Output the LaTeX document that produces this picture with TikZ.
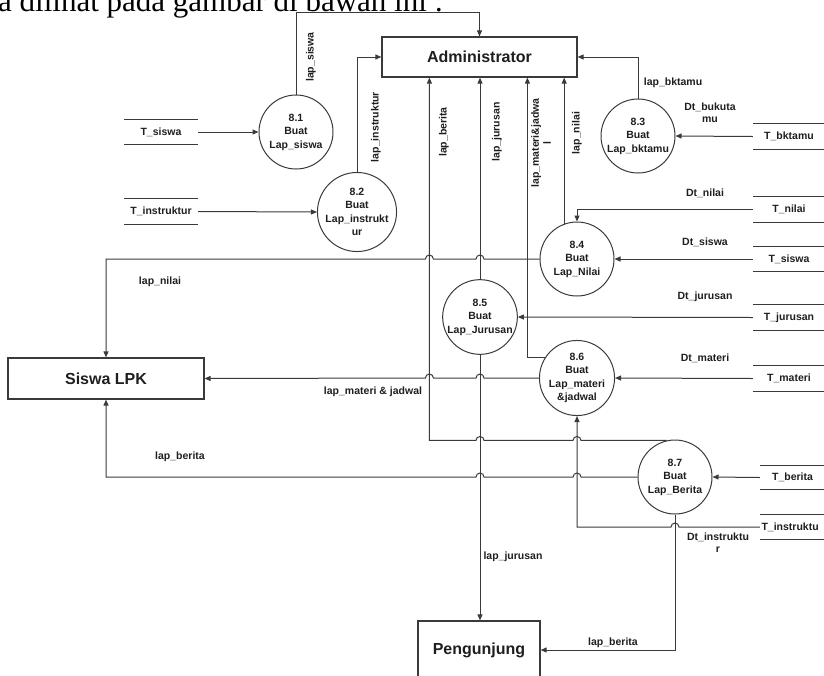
\documentclass[tikz,border=0pt]{standalone}
\usepackage{fontspec}
\setmainfont{Liberation Sans}
\newfontfamily\serifx{Liberation Serif}
\usetikzlibrary{arrows.meta,calc}
\newcommand\bridgearc{arc[start angle=0,end angle=180,radius=4pt]}
\definecolor{lc}{HTML}{3A3A3A}
\definecolor{tc}{HTML}{1E1E1E}
\begin{document}
\begin{tikzpicture}[x=1pt,y=-1pt,
  proc/.style={circle, draw=lc, line width=1pt, minimum size=74pt, inner sep=0pt, align=center, text=tc, font=\bfseries\fontsize{10.5}{13.5}\selectfont},
  ent/.style={draw=lc, line width=1.2pt, inner sep=0pt, text=tc, font=\bfseries\fontsize{16}{19}\selectfont},
  store/.style={inner sep=0pt, text=tc, font=\bfseries\fontsize{10.5}{12}\selectfont},
  flow/.style={draw=lc, line width=1pt, -{Triangle[length=6pt,width=5pt]}},
  lbl/.style={inner sep=0pt, align=center, text=tc, font=\bfseries\fontsize{10.5}{12}\selectfont},
  slines/.style={draw=lc, line width=1pt}]
\useasboundingbox (0,0) rectangle (824,675);
\clip (0,0) rectangle (824,675);

% heading text from the page
\node[anchor=base west, inner sep=0pt, font=\serifx\fontsize{31}{36}\selectfont] (head) at (-2,11) {a dilihat pada gambar di bawah ini :};

% entities
\node[ent, minimum width=195pt, minimum height=40pt] (admin) at (479.5,57) {Administrator};
\node[ent, minimum width=196pt, minimum height=41pt] (siswa) at (106,378.5) {Siswa LPK};
\node[ent, minimum width=122pt, minimum height=58pt] (peng) at (479,650) {Pengunjung};

% processes
\node[proc] (p81) at (296,132) {8.1\\Buat\\Lap\_siswa};
\node[proc] (p82) at (357,212) {8.2\\Buat\\Lap\_instrukt\\ur};
\node[proc] (p83) at (638,136) {8.3\\Buat\\Lap\_bktamu};
\node[proc] (p84) at (577,259) {8.4\\Buat\\Lap\_Nilai};
\node[proc] (p85) at (480,317) {8.5\\Buat\\Lap\_Jurusan};
\node[proc] (p86) at (577,378) {8.6\\Buat\\Lap\_materi\\\&jadwal};
\node[proc] (p87) at (675,477) {8.7\\Buat\\Lap\_Berita};

% data stores
\node[store, minimum width=74pt, minimum height=24pt] (ts1) at (161,132) {T\_siswa};
\node[store, minimum width=74pt, minimum height=25pt] (ti1) at (161,211.5) {T\_instruktur};
\node[store, minimum width=72pt, minimum height=25pt] (tbk) at (789,136.5) {T\_bktamu};
\node[store, minimum width=72pt, minimum height=25pt] (tn) at (789,209.5) {T\_nilai};
\node[store, minimum width=72pt, minimum height=24pt] (tsw) at (789,259) {T\_siswa};
\node[store, minimum width=72pt, minimum height=25pt] (tj) at (789,317.5) {T\_jurusan};
\node[store, minimum width=72pt, minimum height=25pt] (tm) at (789,378.5) {T\_materi};
\node[store, minimum width=65pt, minimum height=23pt] (tb) at (792.5,477.5) {T\_berita};
\node[store, minimum width=65pt, minimum height=24pt, text width=62pt, align=left] (ti2) at (792.5,527) {T\_instruktu};
\foreach \s in {ts1,ti1,tbk,tn,tsw,tj,tm,tb,ti2}{
  \draw[slines] (\s.north west) -- (\s.north east);
  \draw[slines] (\s.south west) -- (\s.south east);
}

% flows from stores
\draw[flow] (ts1.east) -- (p81.west);
\draw[flow] (ti1.east) -- (p82.west);
\draw[flow] (tbk.west) -- (p83.east);
\draw[flow] (tn.west) -| (p84.north);
\draw[flow] (tsw.west) -- (p84.east);
\draw[flow] (tj.west) -- (p85.east);
\draw[flow] (tm.west) -- (p86.east);
\draw[flow] (tb.west) -- (p87.east);
\draw[flow] (ti2.west) -- ($(ti2.west -| p87.south)+(4pt,0)$) \bridgearc -| (p86.south);

% flows to administrator
\draw[flow] (p81.north) |- ($(admin.north)+(0,24pt)$) -- (admin.north);
\draw[flow] (p82.north) |- (admin.west);
\draw[flow] (p83.north) |- (admin.east);
\draw[flow] (p84.110.6) -- (p84.110.6 |- admin.south);
\draw[flow] (p85.north) -- (p85.north |- admin.south);
\draw[flow] (p86.147) -| ($(admin.south west)+(146pt,0)$);
\draw[flow] (p87.103) -- ($(p87.103 -| p86.south)+(4pt,0)$) \bridgearc
  -- ($(p87.103 -| p85.center)+(4pt,0)$) \bridgearc
  -| ($(admin.south west)+(48pt,0)$);

% flows to Siswa LPK
\draw[flow] (p84.west) -- ($(p84.west -| p85.center)+(4pt,0)$) \bridgearc
  -- ($(p84.west -| admin.south west)+(52pt,0)$) \bridgearc
  -| (siswa.north);
\draw[flow] (p86.west) -- ($(p86.west -| p85.center)+(4pt,0)$) \bridgearc
  -- ($(p86.west -| admin.south west)+(52pt,0)$) \bridgearc
  -- (siswa.east);
\draw[flow] (p87.west) -- ($(p87.west -| p86.south)+(4pt,0)$) \bridgearc
  -- ($(p87.west -| p85.center)+(4pt,0)$) \bridgearc
  -| (siswa.south);

% flows to Pengunjung
\draw[flow] (p85.south) -- (p85.south |- peng.north);
\draw[flow] (p87.south) |- (peng.east);

% labels
\node[lbl, rotate=90] (l1) at (311,57) {lap\_siswa};
\node[lbl, rotate=90] (l2) at (376,127) {lap\_instruktur};
\node[lbl, rotate=90] (l3) at (444,132) {lap\_berita};
\node[lbl, rotate=90] (l4) at (497,132) {lap\_jurusan};
\node[lbl, rotate=90] (l5) at (541,143) {lap\_materi\&jadwa\\l};
\node[lbl, rotate=90] (l6) at (577,133) {lap\_nilai};
\node[lbl] (l7) at (673,83) {lap\_bktamu};
\node[lbl] (l8) at (710,113) {Dt\_bukuta\\mu};
\node[lbl] (l9) at (705,193) {Dt\_nilai};
\node[lbl] (l10) at (705,242) {Dt\_siswa};
\node[lbl] (l11) at (705,297) {Dt\_jurusan};
\node[lbl] (l12) at (705,358) {Dt\_materi};
\node[lbl] (l13) at (160,282) {lap\_nilai};
\node[lbl] (l14) at (373,392) {lap\_materi \& jadwal};
\node[lbl] (l15) at (180,457) {lap\_berita};
\node[lbl] (l16) at (718,543) {Dt\_instruktu\\r};
\node[lbl] (l17) at (513,557) {lap\_jurusan};
\node[lbl] (l18) at (613,643) {lap\_berita};
\end{tikzpicture}
\end{document}
